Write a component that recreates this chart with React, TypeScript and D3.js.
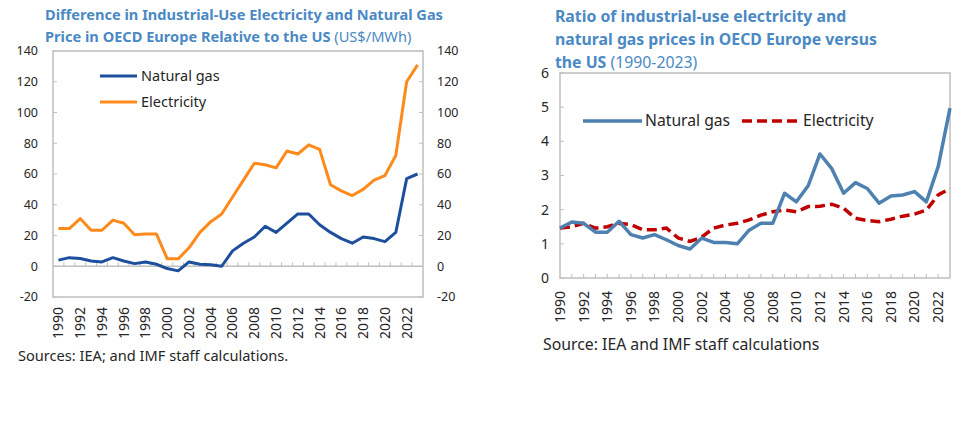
import React from "react";
import * as d3 from "d3";

const years = d3.range(1990, 2024);
const yearLabels = d3.range(1990, 2023, 2);

// Left chart: difference in prices (US$/MWh)
const gasDiff = [4, 5.6, 5, 3.4, 2.8, 5.6, 3.4, 1.7, 2.8, 1.3, -1.5, -3, 2.8, 1.3, 1, 0, 10, 15, 19, 26, 22, 28, 34, 34, 27, 22, 18, 15, 19, 18, 16, 22, 57, 60];
const elecDiff = [24.5, 24.5, 31, 23.4, 23.4, 30, 28, 20.5, 21, 21, 4.8, 4.8, 12, 22, 29, 34, 45, 56, 67, 66, 64, 75, 73, 79, 76, 53, 49, 46, 50, 56, 59, 72, 120, 131];
const leftTicks = [-20, 0, 20, 40, 60, 80, 100, 120, 140];

// Right chart: ratio Europe / US
const gasRatio = [1.46, 1.64, 1.6, 1.34, 1.34, 1.66, 1.27, 1.17, 1.27, 1.12, 0.95, 0.85, 1.17, 1.04, 1.04, 1.0, 1.4, 1.6, 1.6, 2.48, 2.23, 2.7, 3.63, 3.2, 2.48, 2.79, 2.62, 2.19, 2.4, 2.43, 2.53, 2.23, 3.26, 4.97];
const elecRatio = [1.46, 1.5, 1.6, 1.46, 1.5, 1.6, 1.56, 1.41, 1.41, 1.46, 1.17, 1.07, 1.2, 1.46, 1.55, 1.6, 1.7, 1.84, 1.94, 1.99, 1.94, 2.09, 2.1, 2.16, 2.04, 1.75, 1.68, 1.65, 1.72, 1.81, 1.87, 1.99, 2.43, 2.62];
const rightTicks = [0, 1, 2, 3, 4, 5, 6];

const FONT = "'Noto Sans', 'Open Sans', sans-serif";
const TITLE = "#4a89c4";
const TXT = "#262626";
const BORDER = "#bfbfbf";

function LeftChart() {
  const x0 = 53, x1 = 423, yTop = 51, yBot = 297;
  const x = d3.scaleBand<number>().domain(years).range([x0, x1]).padding(0);
  const y = d3.scaleLinear().domain([-20, 140]).range([yBot, yTop]);
  const cx = (yr: number) => (x(yr) as number) + x.bandwidth() / 2;
  const line = d3.line<number>().x((_, i) => cx(years[i])).y((v) => y(v));
  const y0 = y(0);
  return (
    <g fontFamily={FONT}>
      <text x={45} y={20} fill={TITLE} fontSize={14.6} fontWeight={700}>
        Difference in Industrial-Use Electricity and Natural Gas
      </text>
      <text x={45} y={42} fill={TITLE} fontSize={14.6} fontWeight={700}>
        Price in OECD Europe Relative to the US
        <tspan fontWeight={400}> (US$/MWh)</tspan>
      </text>
      <rect x={x0} y={yTop} width={x1 - x0} height={yBot - yTop} fill="none" stroke={BORDER} strokeWidth={1.5} />
      <line x1={x0} x2={x1} y1={y0} y2={y0} stroke={BORDER} strokeWidth={1.5} />
      {years.slice(1).map((yr) => (
        <line key={yr} x1={x(yr)} x2={x(yr)} y1={y0} y2={y0 - 4} stroke={BORDER} strokeWidth={1} />
      ))}
      {leftTicks.map((t) => (
        <g key={t}>
          <line x1={x0} x2={x0 + 4} y1={y(t)} y2={y(t)} stroke={BORDER} />
          <line x1={x1} x2={x1 - 4} y1={y(t)} y2={y(t)} stroke={BORDER} />
          <text x={38} y={y(t)} dy="0.35em" textAnchor="end" fontSize={12.5} fill={TXT}>{t}</text>
          <text x={437} y={y(t)} dy="0.35em" textAnchor="start" fontSize={12.5} fill={TXT}>{t}</text>
        </g>
      ))}
      {yearLabels.map((yr) => (
        <text key={yr} transform={`translate(${cx(yr)},${yBot + 10}) rotate(-90)`} textAnchor="end" dy="0.35em" fontSize={14} fill={TXT}>{yr}</text>
      ))}
      <path d={line(elecDiff) || ""} fill="none" stroke="#ff8a1c" strokeWidth={3} strokeLinejoin="round" />
      <path d={line(gasDiff) || ""} fill="none" stroke="#1d4f9c" strokeWidth={3} strokeLinejoin="round" />
      <line x1={100} x2={137} y1={76} y2={76} stroke="#1d4f9c" strokeWidth={3} />
      <text x={141} y={76} dy="0.35em" fontSize={14.5} fill={TXT}>Natural gas</text>
      <line x1={100} x2={137} y1={102} y2={102} stroke="#ff8a1c" strokeWidth={3} />
      <text x={141} y={102} dy="0.35em" fontSize={14.5} fill={TXT}>Electricity</text>
      <text x={18} y={361} fontSize={14.6} fill={TXT}>Sources: IEA; and IMF staff calculations.</text>
    </g>
  );
}

function RightChart() {
  const x0 = 560, x1 = 950, yTop = 73, yBot = 278;
  const x = d3.scalePoint<number>().domain(years).range([x0, x1]);
  const y = d3.scaleLinear().domain([0, 6]).range([yBot, yTop]);
  const line = d3.line<number>().x((_, i) => x(years[i]) as number).y((v) => y(v));
  return (
    <g fontFamily={FONT}>
      <text x={555} y={22} fill={TITLE} fontSize={15.8} fontWeight={700}>Ratio of industrial-use electricity and</text>
      <text x={555} y={45} fill={TITLE} fontSize={15.8} fontWeight={700}>natural gas prices in OECD Europe versus</text>
      <text x={555} y={68} fill={TITLE} fontSize={15.8} fontWeight={700}>
        the US<tspan fontWeight={400}> (1990-2023)</tspan>
      </text>
      <rect x={x0} y={yTop} width={x1 - x0} height={yBot - yTop} fill="none" stroke={BORDER} strokeWidth={1.5} />
      {years.slice(1, -1).map((yr) => (
        <line key={yr} x1={x(yr)} x2={x(yr)} y1={yBot} y2={yBot - 4} stroke={BORDER} />
      ))}
      {rightTicks.map((t) => (
        <g key={t}>
          <line x1={x0} x2={x0 + 4} y1={y(t)} y2={y(t)} stroke={BORDER} />
          <text x={549} y={y(t)} dy="0.35em" textAnchor="end" fontSize={14} fill={TXT}>{t}</text>
        </g>
      ))}
      {yearLabels.map((yr) => (
        <text key={yr} transform={`translate(${x(yr)},${yBot + 13}) rotate(-90)`} textAnchor="end" dy="0.35em" fontSize={14} fill={TXT}>{yr}</text>
      ))}
      <path d={line(elecRatio) || ""} fill="none" stroke="#c00000" strokeWidth={3.5} strokeDasharray="10 5" />
      <path d={line(gasRatio) || ""} fill="none" stroke="#4f81b0" strokeWidth={3.5} strokeLinejoin="round" />
      <line x1={583} x2={642} y1={121} y2={121} stroke="#4f81b0" strokeWidth={3.5} />
      <text x={645} y={121} dy="0.35em" fontSize={15.7} fill={TXT}>Natural gas</text>
      <line x1={742} x2={800} y1={121} y2={121} stroke="#c00000" strokeWidth={3.5} strokeDasharray="10 5" />
      <text x={803} y={121} dy="0.35em" fontSize={15.7} fill={TXT}>Electricity</text>
      <text x={543} y={350} fontSize={15.8} fill={TXT}>Source: IEA and IMF staff calculations</text>
    </g>
  );
}

export default function App() {
  return (
    <svg width={966} height={421} style={{ position: "absolute", left: 0, top: 0, background: "#fff" }}>
      <rect width={966} height={421} fill="#fff" />
      <LeftChart />
      <RightChart />
    </svg>
  );
}
